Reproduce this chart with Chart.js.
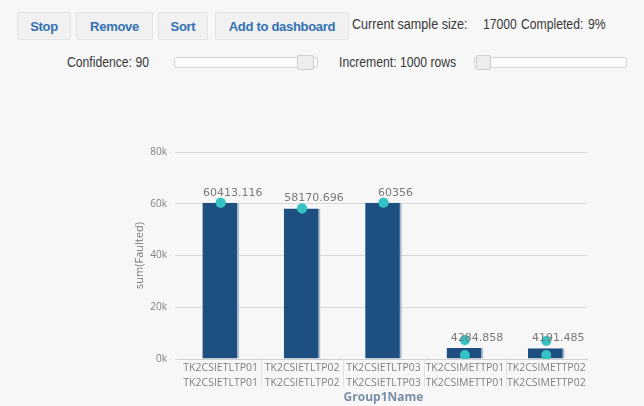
<!DOCTYPE html>
<html>
<head>
<meta charset="UTF-8">
<title>sum(Faulted) by Group1Name</title>
<style type="text/css">
  body { margin: 0; background: #f7f7f7; width: 644px; height: 406px; overflow: hidden; position: relative;
         font-family: "Liberation Sans", Arial, sans-serif; color: #383838; }
  .btn { position: absolute; top: 12px; height: 28px; line-height: 27px; text-align: center;
         background: #f1f1f1; border: 1px solid #e3e3e3; border-radius: 2px;
         color: #3170b3; font-weight: bold; font-size: 13px; letter-spacing: -0.3px; box-sizing: border-box; }
  .txt { position: absolute; font-size: 14px; line-height: 16px; white-space: nowrap;
         transform: scaleX(0.87); transform-origin: 0 50%; }
  .track { position: absolute; height: 11px; border: 1px solid #d4d4d4; background: #fbfbfb; border-radius: 2px; box-sizing: border-box; }
  .handle { position: absolute; height: 15px; border: 1px solid #cfcfcf; background: #ededed; border-radius: 2px; box-sizing: border-box; }
  #chart-container { position: absolute; left: 0; top: 80px; width: 644px; height: 326px; }
</style>
<script type="text/javascript" src="https://cdn.jsdelivr.net/npm/chart.js@4.4.0/dist/chart.umd.min.js"></script>
</head>
<body>

<div class="btn" style="left:17px;width:54px;">Stop</div>
<div class="btn" style="left:76px;width:77px;">Remove</div>
<div class="btn" style="left:158px;width:50px;">Sort</div>
<div class="btn" style="left:215px;width:134px;">Add to dashboard</div>
<div class="txt" style="left:352px;top:16px;transform:scaleX(0.9);">Current sample size:</div>
<div class="txt" style="left:483px;top:16px;">17000</div>
<div class="txt" style="left:521px;top:16px;">Completed:</div>
<div class="txt" style="left:588px;top:16px;">9%</div>

<div class="txt" style="left:67px;top:54px;">Confidence: 90</div>
<div class="track" style="left:174px;top:57px;width:144px;"></div>
<div class="handle" style="left:297px;top:55px;width:17px;"></div>
<div class="txt" style="left:339px;top:54px;">Increment: 1000 rows</div>
<div class="track" style="left:474px;top:57px;width:153px;"></div>
<div class="handle" style="left:476px;top:55px;width:15px;"></div>

<div id="chart-container">
  <canvas id="mycanvas"></canvas>
</div>

<script>
var groups = [
  ['TK2CSIETLTP01', 'TK2CSIETLTP01'],
  ['TK2CSIETLTP02', 'TK2CSIETLTP02'],
  ['TK2CSIETLTP03', 'TK2CSIETLTP03'],
  ['TK2CSIMETTP01', 'TK2CSIMETTP01'],
  ['TK2CSIMETTP02', 'TK2CSIMETTP02']
];
var faulted = [60413.116, 58170.696, 60356, 4284.858, 4191.485];
var faultedLabels = ['60413.116', '58170.696', '60356', '4284.858', '4191.485'];
var upperBound = [60413, 58171, 60356, 7300, 7000];
var lowerBound = [60413, 58171, 60356, 1500, 1500];
var yTicks = [0, 20000, 40000, 60000, 80000];

// value text above each bar
var valueLabels = {
  id: 'valueLabels',
  afterDatasetsDraw: function(chart) {
    var ctx = chart.ctx;
    var meta = chart.getDatasetMeta(0);
    ctx.save();
    ctx.font = '11px "DejaVu Sans"';
    ctx.fillStyle = '#7a7a7a';
    ctx.textAlign = 'center';
    ctx.textBaseline = 'middle';
    meta.data.forEach(function(bar, i) {
      ctx.fillText(faultedLabels[i], bar.x + 12, bar.y - 10);
    });
    ctx.restore();
  }
};

// light separators between categories under the x axis
var separators = {
  id: 'separators',
  afterDraw: function(chart) {
    var x = chart.scales.x;
    var ctx = chart.ctx;
    ctx.save();
    ctx.strokeStyle = '#e2e2e2';
    ctx.lineWidth = 1;
    for (var i = 1; i < groups.length; i++) {
      var px = Math.round((x.getPixelForValue(i - 1) + x.getPixelForValue(i)) / 2) + 0.5;
      ctx.beginPath();
      ctx.moveTo(px, x.top);
      ctx.lineTo(px, x.top + 28);
      ctx.stroke();
    }
    ctx.restore();
  }
};

new Chart(document.getElementById('mycanvas'), {
  type: 'bar',
  data: {
    labels: groups,
    datasets: [
      {
        label: 'sum(Faulted)',
        data: faulted,
        backgroundColor: '#1d4f81',
        borderColor: '#a9bccf',
        borderWidth: { top: 0, left: 0, bottom: 0, right: 2 },
        borderSkipped: false,
        barPercentage: 0.45,
        categoryPercentage: 1,
        order: 2
      },
      {
        type: 'line',
        label: 'upper',
        data: upperBound,
        showLine: false,
        pointRadius: 5,
        pointBackgroundColor: '#35c2c4',
        pointBorderWidth: 0,
        order: 1
      },
      {
        type: 'line',
        label: 'lower',
        data: lowerBound,
        showLine: false,
        pointRadius: 5,
        pointBackgroundColor: '#35c2c4',
        pointBorderWidth: 0,
        order: 1
      }
    ]
  },
  options: {
    responsive: true,
    maintainAspectRatio: false,
    animation: false,
    layout: { padding: { left: 130, right: 57, top: 72, bottom: 0 } },
    plugins: { legend: { display: false }, tooltip: { enabled: false } },
    scales: {
      x: {
        grid: { display: false, drawTicks: false },
        border: { color: '#cfcfcf' },
        ticks: { color: '#808080', font: { family: 'Open Sans', size: 10.5, lineHeight: 1.4 }, padding: 2, maxRotation: 0, autoSkip: false },
        title: { display: true, text: 'Group1Name', color: '#7a8ea6', font: { family: 'Open Sans', size: 12, weight: 'bold' }, padding: { top: 0, bottom: 1 } },
        afterFit: function(s) { s.height = 47; }
      },
      y: {
        min: 0,
        max: 80000,
        afterBuildTicks: function(s) { s.ticks = yTicks.map(function(v) { return { value: v }; }); },
        grid: { color: '#d8d8d8', tickLength: 5, tickColor: '#d8d8d8' },
        border: { display: false },
        ticks: { color: '#808080', font: { family: 'Open Sans', size: 10 }, padding: 8,
                 callback: function(v) { return (v / 1000) + 'k'; } },
        title: { display: true, text: 'sum(Faulted)', color: '#7a7a7a', font: { family: 'Open Sans', size: 11 }, padding: { top: 3, bottom: 0 } },
        afterFit: function(s) { s.width = 50; }
      }
    }
  },
  plugins: [valueLabels, separators]
});
</script>
</body>
</html>
